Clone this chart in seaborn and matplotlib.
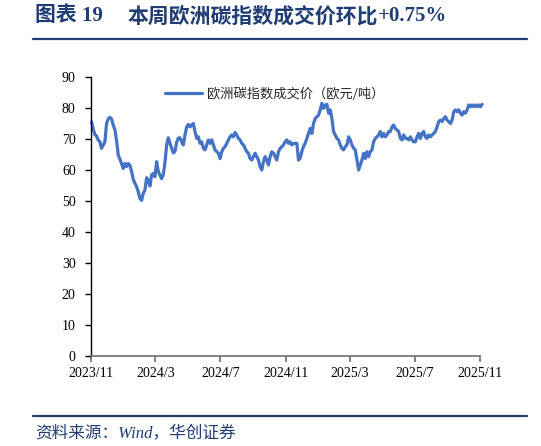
import matplotlib
matplotlib.use('Agg')
import matplotlib.pyplot as plt
import matplotlib.dates as mdates
import seaborn as sns
import pandas as pd

# 欧洲碳指数成交价（欧元/吨），约每3天一个读数，2023-11-02 ~ 2025-11-05
price = [
    75.6, 73.2, 71.4, 71.0, 69.7, 69.1, 67.0, 68.0, 69.1, 75.0, 76.5, 77.0,
    76.5, 74.5, 73.0, 69.5, 64.8, 63.5, 62.0, 60.5, 62.1, 61.1, 62.1, 61.5,
    59.5, 57.0, 55.7, 54.6, 53.0, 50.8, 50.2, 52.5, 53.5, 57.5, 56.7, 54.8,
    58.4, 58.9, 57.8, 62.7, 59.5, 58.4, 57.2, 58.5, 62.5, 68.1, 70.4, 68.6,
    67.0, 65.5, 66.0, 69.0, 70.3, 70.4, 69.1, 68.1, 71.3, 73.9, 74.7,
    # 2024/5 - 2024/11
    73.9, 74.5, 75.0, 72.4, 70.2, 70.7, 68.6, 69.1, 67.0, 66.5, 68.1, 69.7,
    68.6, 69.7, 68.1, 66.5, 65.9, 65.4, 63.7, 65.9, 67.0, 67.5, 68.6, 69.7,
    70.7, 71.3, 70.7, 72.1, 71.3, 70.2, 69.7, 68.6, 68.1, 67.0, 65.9, 65.4,
    63.7, 63.2, 64.3, 65.4, 64.3, 63.2, 61.1, 60.0, 62.7, 64.3, 63.2, 61.6,
    64.3, 65.9, 65.4, 64.3, 63.2, 65.9, 67.0, 67.5, 68.1, 69.1, 69.7, 68.6,
    69.1, 68.1, 68.6, 68.6, 68.6,
    # 2024/11 - 2025/7
    63.2, 63.8, 66.0, 67.6, 68.6, 70.2, 71.8, 73.4, 71.8, 75.0, 76.6, 77.2,
    77.7, 79.4, 81.5, 79.9, 80.9, 81.2, 78.3, 79.4, 76.6, 72.4, 71.3, 70.2,
    69.7, 68.1, 67.0, 66.5, 67.5, 68.1, 70.7, 69.7, 68.1, 67.0, 66.5, 63.2,
    60.0, 61.6, 63.2, 65.4, 63.7, 65.9, 64.3, 65.9, 66.5, 69.1, 70.2, 70.7,
    71.3, 72.4, 70.7, 71.8, 70.7, 71.3, 72.4, 72.4, 73.9, 74.5, 73.4, 72.9,
    72.4, 70.2, 69.7, 71.3,
    # 2025/7 - 2025/11
    70.2, 70.2, 69.7, 70.7, 69.7, 69.1, 69.1, 70.7, 71.8, 70.2, 71.8, 72.4,
    70.7, 70.2, 71.3, 70.7, 71.3, 71.8, 72.4, 73.9, 75.6, 76.1, 75.6, 76.6,
    77.2, 76.1, 75.6, 75.0, 76.1, 78.8, 79.4, 78.8, 79.4, 78.3, 77.7, 78.8,
    78.3, 79.4, 81.0, 80.4, 81.0, 80.4, 81.0, 80.4, 81.0, 80.4, 81.2,
]
start_date = '2023-11-02'
end_date = '2025-11-05'

tick_dates = ['2023-11-01', '2024-03-01', '2024-07-01', '2024-11-01',
              '2025-03-01', '2025-07-01', '2025-11-01']
tick_labels = ['2023/11', '2024/3', '2024/7', '2024/11',
               '2025/3', '2025/7', '2025/11']
y_ticks = [0, 10, 20, 30, 40, 50, 60, 70, 80, 90]

series_name = '欧洲碳指数成交价（欧元/吨）'
title_no = '图表 19'
title_text = '本周欧洲碳指数成交价环比'
title_change = '+0.75%'
source_text = '资料来源：Wind，华创证券'

df = pd.DataFrame({
    'date': pd.date_range(start_date, end_date, periods=len(price)),
    'price': price,
})

sns.set_style('ticks')
plt.rcParams['font.family'] = ['Liberation Serif', 'Noto Sans CJK SC', 'DejaVu Sans']
plt.rcParams['axes.unicode_minus'] = False

navy = '#1F3C73'
fig = plt.figure(figsize=(5.41, 4.46), dpi=100)
ax = fig.add_axes([91 / 541, 1 - 356 / 446, 389 / 541, 279 / 446])

sns.lineplot(data=df, x='date', y='price', color='#4472C4', linewidth=2.3,
             label=series_name, ax=ax)
ax.lines[0].set_clip_on(False)

ax.set_xlim(pd.Timestamp(tick_dates[0]), pd.Timestamp(tick_dates[-1]))
ax.set_ylim(0, 90)
ax.set_xticks([mdates.date2num(pd.Timestamp(d)) for d in tick_dates])
ax.set_xticklabels(tick_labels)
ax.set_yticks(y_ticks)
ax.set_xlabel('')
ax.set_ylabel('')

for s in ['top', 'right']:
    ax.spines[s].set_visible(False)
ax.spines['left'].set_color('black')
ax.spines['left'].set_linewidth(1.0)
ax.spines['bottom'].set_color('#6E6E6E')
ax.spines['bottom'].set_linewidth(1.2)
ax.tick_params(axis='y', direction='out', length=4, width=1.0, color='black',
               pad=7, labelsize=10, labelcolor='black')
ax.tick_params(axis='x', direction='out', length=4, width=1.2, color='#6E6E6E',
               pad=4, labelsize=10, labelcolor='black')

ax.legend(loc='center left', bbox_to_anchor=((165 - 91) / 389, (356 - 94) / 279),
          frameon=False, borderpad=0, borderaxespad=0, handlelength=2.8,
          handletextpad=0.4,
          prop={'family': ['Noto Sans CJK SC', 'DejaVu Sans'], 'size': 9.5})

# 标题与来源
fig.text(35 / 541, 1 - 16 / 446, title_no, color=navy, fontsize=15,
         fontweight='bold', va='center', ha='left')
t_main = fig.text(127 / 541, 1 - 16 / 446, title_text, color=navy, fontsize=15,
                  fontweight='bold', va='center', ha='left',
                  family=['Noto Sans CJK SC'])
# “+0.75%”紧接在标题文字之后
ax.annotate(title_change, xy=(1, 0.5), xycoords=t_main, va='center', ha='left',
            color=navy, fontsize=15, fontweight='bold',
            family=['Liberation Serif'], annotation_clip=False)

fig.add_artist(plt.Line2D([33 / 541, 527 / 541], [1 - 39 / 446, 1 - 39 / 446],
                          color=navy, linewidth=1.6))
fig.add_artist(plt.Line2D([33 / 541, 527 / 541], [1 - 416 / 446, 1 - 416 / 446],
                          color=navy, linewidth=1.6))
fig.text(35 / 541, 1 - 433 / 446, source_text, color=navy, fontsize=12,
         style='italic', va='center', ha='left')

fig.savefig('out.png', dpi=100)
